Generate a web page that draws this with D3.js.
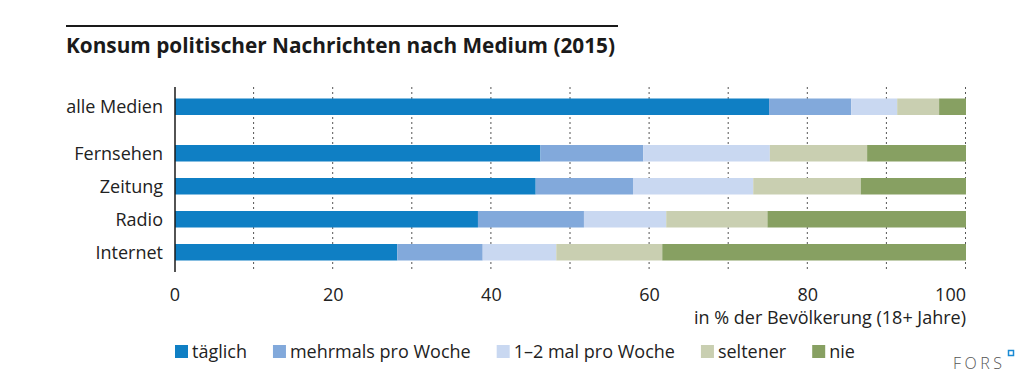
<!DOCTYPE html>
<html>
<head>
<meta charset="utf-8">
<script src="https://cdn.jsdelivr.net/npm/d3@7"></script>
<style>
  body { margin: 0; background: #fff; }
  text { font-family: "Open Sans", sans-serif; fill: #222; }
</style>
</head>
<body>
<div id="chart-area"></div>
<script>
let categories = ["alle Medien", "Fernsehen", "Zeitung", "Radio", "Internet"];
let seriesNames = ["täglich", "mehrmals pro Woche", "1–2 mal pro Woche", "seltener", "nie"];
let taeglich = [75.1, 46.2, 45.6, 38.3, 28.1];
let mehrmals = [10.4, 13.0, 12.3, 13.4, 10.8];
let einZwei = [5.8, 16.0, 15.2, 10.4, 9.3];
let seltener = [5.3, 12.3, 13.6, 12.8, 13.4];
let nie = [3.4, 12.5, 13.3, 25.1, 38.4];
let xTicks = [0, 20, 40, 60, 80, 100];
let colors = ["#0f7fc4", "#82a9db", "#c9d8f1", "#c9cfb1", "#87a062"];

let rows = categories.map((c, i) => ({
  cat: c,
  "täglich": taeglich[i],
  "mehrmals pro Woche": mehrmals[i],
  "1–2 mal pro Woche": einZwei[i],
  "seltener": seltener[i],
  "nie": nie[i]
}));

let svgW = 1035, svgH = 389;
let margin = { left: 175, right: 69, top: 112 };
let chartW = svgW - margin.left - margin.right;
let fs = 18;

let svg = d3.select("#chart-area").append("svg")
  .attr("width", svgW)
  .attr("height", svgH);

// title + rule
svg.append("line")
  .attr("x1", 66).attr("x2", 618)
  .attr("y1", 26).attr("y2", 26)
  .attr("stroke", "#1a1a1a").attr("stroke-width", 2);
svg.append("text")
  .attr("x", 66).attr("y", 53)
  .attr("font-size", 20.8).attr("font-weight", 700)
  .style("fill", "#1a1a1a")
  .text("Konsum politischer Nachrichten nach Medium (2015)");

let x = d3.scaleLinear().domain([0, 100]).range([0, chartW]);
let y = d3.scaleBand().domain(categories)
  .range([0, 148.5]).paddingInner(0.5).paddingOuter(0);
// "alle Medien" is set apart from the single media
let groupGap = 13.5;
let yPos = d => y(d) - (d === "alle Medien" ? groupGap : 0);

let g = svg.append("g")
  .attr("transform", `translate(${margin.left},${margin.top})`);

let gridTop = -25, gridBottom = 160;

// dotted grid
g.selectAll(".grid")
  .data(d3.range(10, 101, 10))
  .enter().append("line")
  .attr("x1", d => x(d) - 0.5).attr("x2", d => x(d) - 0.5)
  .attr("y1", gridTop).attr("y2", gridBottom)
  .attr("stroke", "#555")
  .attr("stroke-width", 1)
  .attr("stroke-dasharray", "2,3");

let stack = d3.stack().keys(seriesNames)(rows);

g.selectAll(".series")
  .data(stack)
  .enter().append("g")
  .attr("fill", (d, i) => colors[i])
  .selectAll("rect")
  .data(d => d)
  .enter().append("rect")
  .attr("x", d => x(d[0]))
  .attr("width", d => x(d[1]) - x(d[0]))
  .attr("y", d => yPos(d.data.cat))
  .attr("height", y.bandwidth());

// left axis line
g.append("line")
  .attr("x1", 0).attr("x2", 0)
  .attr("y1", gridTop).attr("y2", gridBottom)
  .attr("stroke", "#1a1a1a").attr("stroke-width", 1.5);

// category labels
g.selectAll(".cat")
  .data(categories)
  .enter().append("text")
  .attr("x", -12)
  .attr("y", d => yPos(d) + y.bandwidth() / 2)
  .attr("dy", "0.35em")
  .attr("text-anchor", "end")
  .attr("font-size", fs)
  .text(d => d);

// x tick labels
g.selectAll(".tick")
  .data(xTicks)
  .enter().append("text")
  .attr("x", d => x(d))
  .attr("y", 189)
  .attr("text-anchor", (d, i) => i === xTicks.length - 1 ? "end" : "middle")
  .attr("font-size", fs)
  .text(d => d);

g.append("text")
  .attr("x", chartW).attr("y", 212)
  .attr("text-anchor", "end")
  .attr("font-size", fs)
  .text("in % der Bevölkerung (18+ Jahre)");

// legend
let legend = svg.append("g").attr("transform", "translate(175,345)");
let lx = 0;
seriesNames.forEach((name, i) => {
  let item = legend.append("g").attr("transform", `translate(${lx},0)`);
  item.append("rect")
    .attr("width", 13).attr("height", 13)
    .attr("fill", colors[i]);
  let t = item.append("text")
    .attr("x", 17).attr("y", 13)
    .attr("font-size", fs)
    .text(name);
  lx += 17 + t.node().getComputedTextLength() + 26;
});

// FORS mark
svg.append("text")
  .attr("x", 953).attr("y", 369)
  .attr("font-size", 16)
  .attr("font-weight", 300)
  .attr("letter-spacing", 3.5)
  .style("fill", "#555")
  .text("FORS");
svg.append("rect")
  .attr("x", 1008.5).attr("y", 350.5)
  .attr("width", 5).attr("height", 5)
  .attr("fill", "#fff")
  .attr("stroke", "#1a8ad4").attr("stroke-width", 1.5);
</script>
</body>
</html>
